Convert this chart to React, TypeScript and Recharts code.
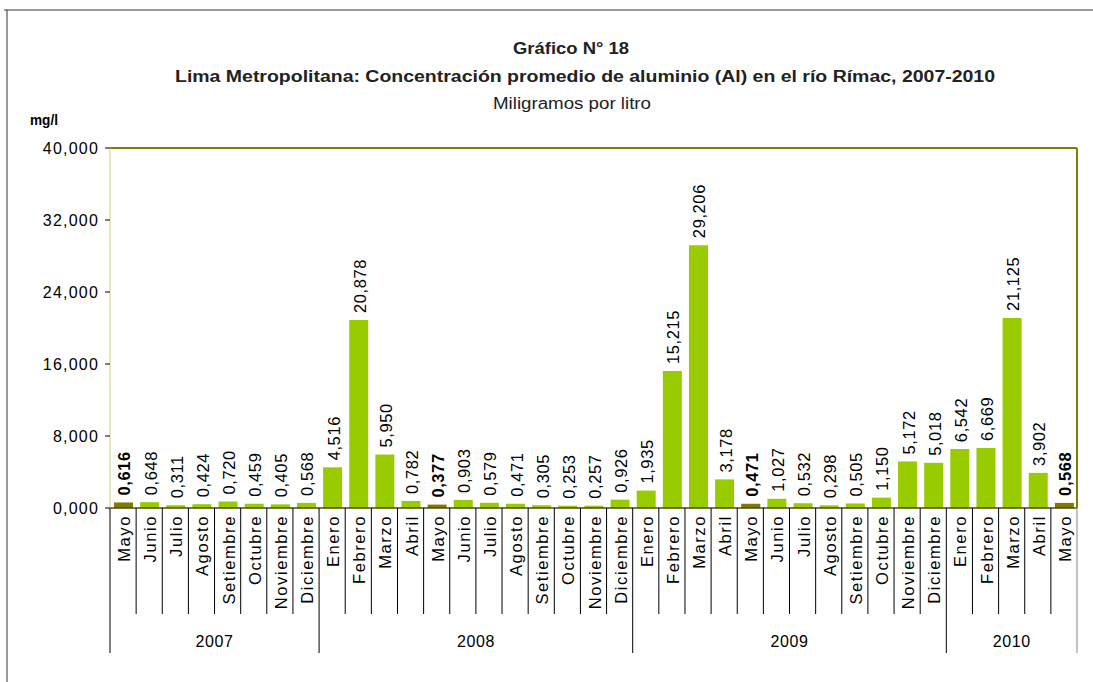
import React from 'react';
import { BarChart, Bar, XAxis, YAxis, Cell, LabelList, ReferenceLine } from 'recharts';

const months = [
  'Mayo', 'Junio', 'Julio', 'Agosto', 'Setiembre', 'Octubre', 'Noviembre', 'Diciembre',
  'Enero', 'Febrero', 'Marzo', 'Abril', 'Mayo', 'Junio', 'Julio', 'Agosto', 'Setiembre', 'Octubre', 'Noviembre', 'Diciembre',
  'Enero', 'Febrero', 'Marzo', 'Abril', 'Mayo', 'Junio', 'Julio', 'Agosto', 'Setiembre', 'Octubre', 'Noviembre', 'Diciembre',
  'Enero', 'Febrero', 'Marzo', 'Abril', 'Mayo',
];
const years = ['2007', '2008', '2009', '2010'];
const monthsPerYear = [8, 12, 12, 5];
const values = [
  0.616, 0.648, 0.311, 0.424, 0.72, 0.459, 0.405, 0.568,
  4.516, 20.878, 5.95, 0.782, 0.377, 0.903, 0.579, 0.471, 0.305, 0.253, 0.257, 0.926,
  1.935, 15.215, 29.206, 3.178, 0.471, 1.027, 0.532, 0.298, 0.505, 1.15, 5.172, 5.018,
  6.542, 6.669, 21.125, 3.902, 0.568,
];
const yTicks = [0, 8, 16, 24, 32, 40];

const FONT = '"Liberation Sans", Arial, sans-serif';
const GREEN = '#99cc00';
const DARK = '#807a00';
const OLIVE = '#808000';

const W = 1093;
const H = 682;
const PLOT_LEFT = 110;
const PLOT_RIGHT = 1077;
const PLOT_TOP = 148;
const PLOT_BOTTOM = 508;
const BW = (PLOT_RIGHT - PLOT_LEFT) / months.length;

// index of first bar of each year -> year group
const yearStart: Record<number, number> = {};
const data = (() => {
  const rows: { id: string; month: string; year: string; value: number }[] = [];
  let i = 0;
  years.forEach((yr, g) => {
    yearStart[i] = g;
    for (let k = 0; k < monthsPerYear[g]; k++) {
      rows.push({ id: `${yr}-${i}`, month: months[i], year: yr, value: values[i] });
      i++;
    }
  });
  return rows;
})();

const fmt = (v: number) => v.toFixed(3).replace('.', ',');

const MonthTick = (props: any) => {
  const { x, payload } = props;
  const idx = payload.index;
  const left = x - BW / 2;
  const g = yearStart[idx];
  const isLast = idx === months.length - 1;
  return (
    <g>
      <line x1={left} x2={left} y1={PLOT_BOTTOM} y2={g !== undefined ? 653 : 614} stroke="#000" strokeWidth={1} />
      {isLast && <line x1={left + BW} x2={left + BW} y1={PLOT_BOTTOM} y2={653} stroke="#888" strokeWidth={1} />}
      <text
        x={x + 7}
        y={515}
        transform={`rotate(-90, ${x + 7}, 515)`}
        textAnchor="end"
        fontFamily={FONT}
        fontSize={16.5}
        letterSpacing={1.6}
        fill="#000"
      >
        {months[idx]}
      </text>
      {g !== undefined && (
        <text
          x={left + (monthsPerYear[g] * BW) / 2}
          y={647}
          textAnchor="middle"
          fontFamily={FONT}
          fontSize={16}
          letterSpacing={0.6}
          fill="#000"
        >
          {years[g]}
        </text>
      )}
    </g>
  );
};

const BarLabel = (props: any) => {
  const { x, y, width, value, index } = props;
  const cx = x + width / 2 + 7;
  const ty = y - 7;
  const bold = months[index] === 'Mayo';
  return (
    <text
      x={cx}
      y={ty}
      transform={`rotate(-90, ${cx}, ${ty})`}
      textAnchor="start"
      fontFamily={FONT}
      fontSize={16.5}
      fontWeight={bold ? 'bold' : 'normal'}
      letterSpacing={0.6}
      fill="#000"
    >
      {fmt(value)}
    </text>
  );
};

export default function App() {
  return (
    <div style={{ position: 'absolute', left: 0, top: 0, width: W, height: H, background: '#fff' }}>
      <BarChart
        width={W}
        height={H}
        data={data}
        margin={{ top: PLOT_TOP, right: W - PLOT_RIGHT - 1, bottom: 0, left: 0 }}
        barSize={19}
      >
        <XAxis
          dataKey="id"
          interval={0}
          height={H - PLOT_BOTTOM}
          tick={<MonthTick />}
          tickLine={false}
          axisLine={{ stroke: '#4a4a10', strokeWidth: 1.5 }}
        />
        <YAxis
          yAxisId="left"
          width={PLOT_LEFT}
          domain={[0, 40]}
          ticks={yTicks}
          tickFormatter={fmt}
          tickSize={5}
          tickMargin={6}
          axisLine={{ stroke: '#cfcf80' }}
          tickLine={{ stroke: '#000' }}
          tick={{ fontFamily: FONT, fontSize: 16, fill: '#000', letterSpacing: 1.2 }}
        />
        <YAxis
          yAxisId="right"
          orientation="right"
          width={1}
          domain={[0, 40]}
          ticks={yTicks}
          tick={false}
          tickLine={false}
          axisLine={{ stroke: OLIVE, strokeWidth: 2 }}
        />
        <ReferenceLine yAxisId="left" y={40} stroke={OLIVE} strokeWidth={2} />
        <Bar yAxisId="left" dataKey="value" isAnimationActive={false}>
          {data.map((d) => (
            <Cell key={d.id} fill={d.month === 'Mayo' ? DARK : GREEN} />
          ))}
          <LabelList dataKey="value" content={<BarLabel />} />
        </Bar>
      </BarChart>
      <svg
        width={W}
        height={H}
        style={{ position: 'absolute', left: 0, top: 0, pointerEvents: 'none' }}
      >
        <line x1={4} x2={W} y1={10} y2={10} stroke="#333" strokeWidth={1} />
        <line x1={7} x2={7} y1={10} y2={H} stroke="#333" strokeWidth={1} />
        <text x={571} y={54} textAnchor="middle" fontFamily={FONT} fontSize={16} fontWeight="bold" textLength={116} lengthAdjust="spacingAndGlyphs" fill="#222">
          Gráfico N° 18
        </text>
        <text x={585} y={82} textAnchor="middle" fontFamily={FONT} fontSize={16} fontWeight="bold" textLength={820} lengthAdjust="spacingAndGlyphs" fill="#222">
          Lima Metropolitana: Concentración promedio de aluminio (Al) en el río Rímac, 2007-2010
        </text>
        <text x={572} y={109} textAnchor="middle" fontFamily={FONT} fontSize={16} textLength={158} lengthAdjust="spacingAndGlyphs" fill="#222">
          Miligramos por litro
        </text>
        <text x={30} y={125} fontFamily={FONT} fontSize={15} fontWeight="bold" textLength={28} lengthAdjust="spacingAndGlyphs" fill="#000">
          mg/l
        </text>
      </svg>
    </div>
  );
}
